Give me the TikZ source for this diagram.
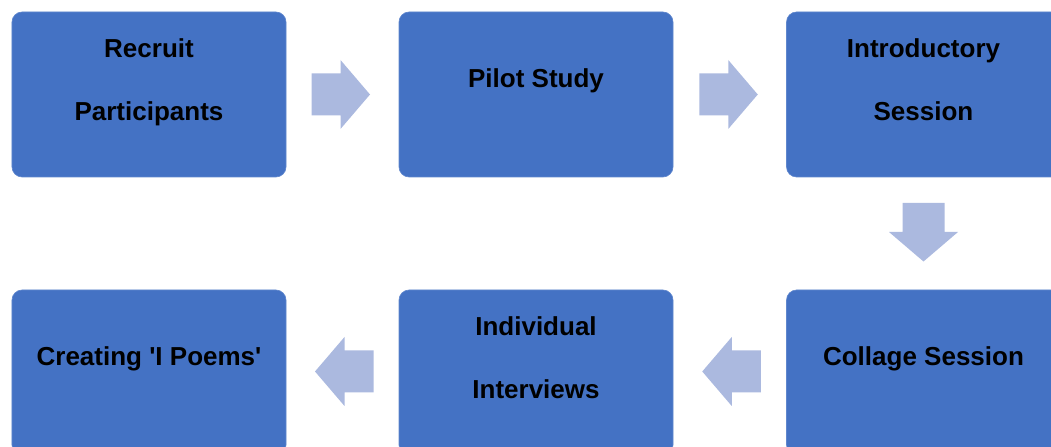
\documentclass[tikz,border=0pt]{standalone}
\usepackage{fontspec}
\setmainfont{Liberation Sans}
\usetikzlibrary{calc}
\definecolor{boxblue}{HTML}{4472C4}
\definecolor{arrowblue}{HTML}{ABB9DF}
\tikzset{
  stage/.style={rectangle, rounded corners=10bp, fill=boxblue, draw=boxblue!85!white,
    line width=0.6bp, minimum width=274bp, minimum height=165bp, inner sep=0pt},
  stagetext/.style={anchor=base, inner sep=0pt, text=black,
    font=\fontsize{26bp}{30bp}\selectfont\bfseries},
  flowarrow/.style={fill=arrowblue}
}
% block arrow pointing along +x, centred on the origin, before shift/rotate
\newcommand{\blockarrowpath}{(-29,-21) -- (0,-21) -- (0,-34.5) -- (29.5,0) -- (0,34.5) -- (0,21) -- (-29,21) -- cycle}
\begin{document}
\begin{tikzpicture}[x=1bp, y=1bp]
  \useasboundingbox (0,0) rectangle (1051,-447);
  \clip (0,0) rectangle (1051,-447);

  % stage boxes
  \node[stage] (recruit)    at (149,-94.5)   {};
  \node[stage] (pilot)      at (536,-94.5)   {};
  \node[stage] (intro)      at (923.5,-94.5) {};
  \node[stage] (collage)    at (923.5,-372.5) {};
  \node[stage] (interviews) at (536,-372.5)  {};
  \node[stage] (poems)      at (149,-372.5)  {};

  % stage labels
  \node[stagetext] (recruitA) at (149,-58)   {Recruit};
  \node[stagetext] (recruitB) at (149,-121)  {Participants};
  \node[stagetext] (pilotA)   at (536,-87.3) {Pilot Study};
  \node[stagetext] (introA)   at (923.5,-58) {Introductory};
  \node[stagetext] (introB)   at (923.5,-121) {Session};
  \node[stagetext] (collageA) at (923.5,-365.7) {Collage Session};
  \node[stagetext] (interA)   at (536,-335.7) {Individual};
  \node[stagetext] (interB)   at (536,-398.3) {Interviews};
  \node[stagetext] (poemsA)   at (149,-366)   {Creating \textquotesingle I Poems\textquotesingle};

  % block arrows between stages
  \coordinate (a1) at ($(recruit.east)!0.5!(pilot.west)+(-2,0)$);
  \coordinate (a2) at ($(pilot.east)!0.5!(intro.west)+(-1.5,0)$);
  \coordinate (a3) at ($(intro.south)!0.5!(collage.north)+(0,1.5)$);
  \coordinate (a4) at ($(collage.west)!0.5!(interviews.east)+(2,1)$);
  \coordinate (a5) at ($(interviews.west)!0.5!(poems.east)+(2,1)$);
  \fill[flowarrow, shift={(a1)}] \blockarrowpath;
  \fill[flowarrow, shift={(a2)}] \blockarrowpath;
  \fill[flowarrow, shift={(a3)}, rotate=-90] \blockarrowpath;
  \fill[flowarrow, shift={(a4)}, rotate=180] \blockarrowpath;
  \fill[flowarrow, shift={(a5)}, rotate=180] \blockarrowpath;
\end{tikzpicture}
\end{document}
